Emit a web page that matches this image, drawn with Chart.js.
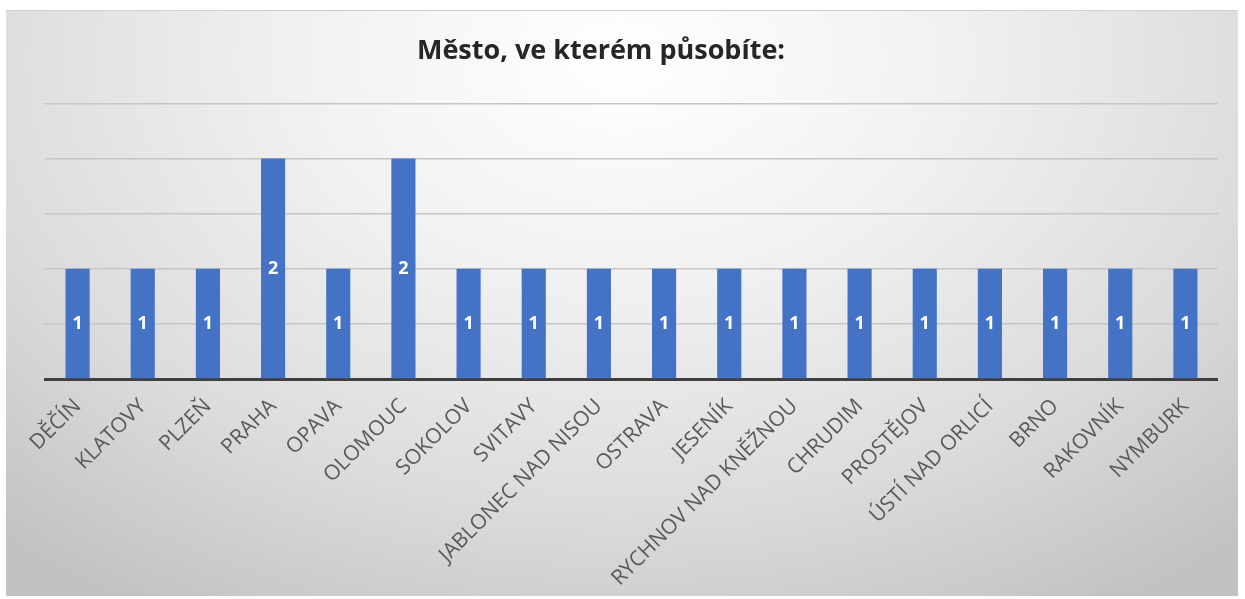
<!DOCTYPE html>
<html>
<head>
<meta charset="utf-8">
<script src="https://cdn.jsdelivr.net/npm/chart.js@4"></script>
<style>
    html, body { margin: 0; padding: 0; background: #fff; }
    #box {
        position: absolute; left: 6px; top: 10px; width: 1232px; height: 585px; overflow: hidden;
        background: radial-gradient(ellipse 75% 110% at 50% 8%, #ffffff 0%, #f1f1f1 35%, #dcdcdc 70%, #c2c2c2 100%);
        border-top: 1px solid #d0d0d0;
    }
    #wrap { position: absolute; left: -22px; top: 0; width: 1234px; height: 585px; }
</style>
</head>
<body>
<div id="box"><div id="wrap"><canvas id="chart"></canvas></div></div>
<script>
const cities = ['DĚČÍN', 'KLATOVY', 'PLZEŇ', 'PRAHA', 'OPAVA', 'OLOMOUC', 'SOKOLOV', 'SVITAVY',
    'JABLONEC NAD NISOU', 'OSTRAVA', 'JESENÍK', 'RYCHNOV NAD KNĚŽNOU', 'CHRUDIM', 'PROSTĚJOV',
    'ÚSTÍ NAD ORLICÍ', 'BRNO', 'RAKOVNÍK', 'NYMBURK'];
const counts = [1, 1, 1, 2, 1, 2, 1, 1, 1, 1, 1, 1, 1, 1, 1, 1, 1, 1];
const chartTitle = 'Město, ve kterém působíte:';

// white value labels in the middle of each bar
const barLabels = {
    id: 'barLabels',
    afterDatasetsDraw(chart) {
        const ctx = chart.ctx;
        const meta = chart.getDatasetMeta(0);
        ctx.save();
        ctx.fillStyle = '#ffffff';
        ctx.font = 'bold 18px "Open Sans", sans-serif';
        ctx.textAlign = 'center';
        ctx.textBaseline = 'middle';
        meta.data.forEach((bar, i) => {
            ctx.fillText(String(counts[i]), bar.x, (bar.y + bar.base) / 2);
        });
        ctx.restore();
    }
};

document.addEventListener("DOMContentLoaded", () => {
    const ctx = document.getElementById('chart').getContext('2d');
    new Chart(ctx, {
        type: 'bar',
        data: {
            labels: cities,
            datasets: [{
                data: counts,
                backgroundColor: '#4472c4',
                barPercentage: 0.37,
                categoryPercentage: 1
            }]
        },
        options: {
            responsive: true,
            maintainAspectRatio: false,
            animation: false,
            layout: { padding: 0 },
            plugins: {
                legend: { display: false },
                tooltip: { enabled: false },
                title: {
                    display: true,
                    text: chartTitle,
                    color: '#262626',
                    font: { family: '"Open Sans", sans-serif', size: 27, weight: 'bold' },
                    padding: { top: 24, bottom: 36 }
                }
            },
            scales: {
                x: {
                    grid: { display: false },
                    border: { display: true, color: '#404040', width: 3 },
                    ticks: {
                        color: '#595959',
                        font: { family: '"Open Sans", sans-serif', size: 21 },
                        maxRotation: 45,
                        minRotation: 45,
                        autoSkip: false,
                        padding: 7
                    },
                    afterFit: scale => { scale.height = 217; }
                },
                y: {
                    min: 0,
                    max: 2.5,
                    ticks: { display: false, stepSize: 0.5 },
                    border: { display: false },
                    grid: { color: '#c6c6c6', lineWidth: 1.5, drawTicks: false },
                    afterFit: scale => { scale.width = 61; }
                }
            }
        },
        plugins: [barLabels]
    });
});
</script>
</body>
</html>
